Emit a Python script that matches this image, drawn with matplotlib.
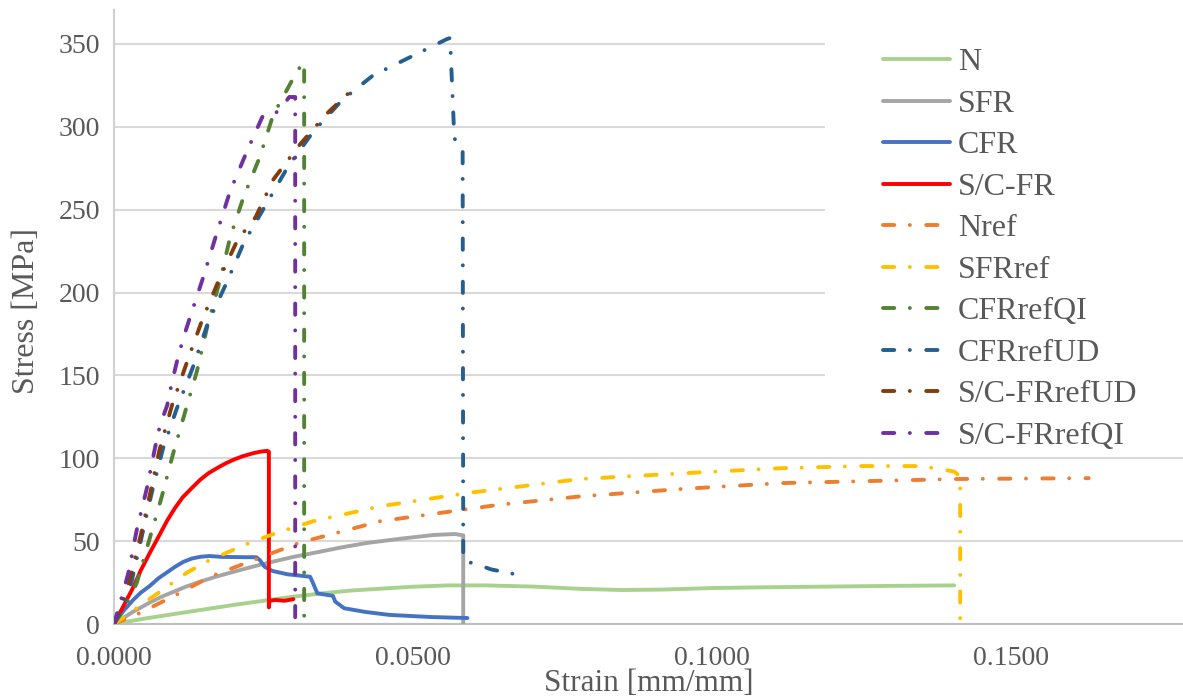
import matplotlib
matplotlib.use("Agg")
import matplotlib.pyplot as plt
from matplotlib.patches import Rectangle

# ---------------- data (strain [mm/mm], stress [MPa]) ----------------
N_strain = [0, 0.005, 0.01, 0.02, 0.03, 0.035, 0.04, 0.05, 0.056, 0.062, 0.07, 0.078,
            0.085, 0.092, 0.1, 0.11, 0.12, 0.13, 0.1405]
N_stress = [0, 3.2, 6, 11.5, 16.5, 18.6, 20.3, 22.5, 23.3, 23.3, 22.6, 21.2,
            20.5, 20.8, 21.7, 22.2, 22.6, 23.0, 23.3]

SFR_strain = [0, 0.0015, 0.003, 0.0045, 0.006, 0.008, 0.01, 0.012, 0.0144, 0.017, 0.0199,
              0.0228, 0.0256, 0.03, 0.0344, 0.038, 0.0423, 0.048, 0.0534, 0.057,
              0.0584, 0.0584]
SFR_stress = [0, 3.5, 7, 10, 13, 16.5, 19.5, 22.5, 25.5, 28.5, 31.4,
              34.2, 36.8, 40.5, 43.6, 46.2, 48.9, 51.5, 53.7, 54.3,
              53.5, 0]

CFR_strain = [0, 0.0016, 0.0032, 0.0045, 0.006, 0.0074, 0.0088, 0.0102, 0.0116, 0.013,
              0.0145, 0.016, 0.018, 0.022, 0.0238, 0.0244, 0.0252, 0.0265, 0.029,
              0.0316, 0.0328, 0.0333, 0.034, 0.0366, 0.037, 0.0385, 0.042, 0.046,
              0.053, 0.0591]
CFR_stress = [0, 8, 14.5, 19, 23, 27.5, 31, 34.5, 37.5, 39.5,
              40.6, 41, 40.5, 40.3, 40.3, 38.5, 34.5, 32, 30,
              29, 28.5, 24.5, 18.5, 17, 13.5, 9.5, 7.3, 5.5,
              4.2, 3.6]

SCFR_strain = [0, 0.0016, 0.0032, 0.0045, 0.006, 0.0075, 0.0089, 0.0102, 0.0115, 0.013,
               0.0144, 0.0158, 0.0172, 0.0186, 0.0199, 0.0215, 0.0232, 0.0245, 0.0256,
               0.0259, 0.0259, 0.026, 0.027, 0.0285, 0.030]
SCFR_stress = [0, 11, 22, 32.5, 43, 53, 62.5, 70, 76.5, 82,
               87, 91, 94, 96.8, 99, 101.2, 103, 104, 104.5,
               104, 10, 14, 14.5, 14, 15]

Nref_strain = [0, 0.0043, 0.011, 0.016, 0.0222, 0.031, 0.0445, 0.0645, 0.078, 0.095,
               0.1114, 0.141, 0.163]
Nref_stress = [0, 6.6, 18.7, 28.4, 37, 49, 62, 72, 77, 81.5,
               85, 87.5, 88]

SFRref_strain = [0, 0.002, 0.0043, 0.0077, 0.0122, 0.016, 0.0227, 0.0272, 0.0333, 0.0445,
                 0.059, 0.078, 0.098, 0.1114, 0.125, 0.135, 0.138, 0.1405, 0.1415, 0.1415]
SFRref_stress = [0, 5, 11, 19.5, 31, 38.6, 49, 55, 62, 71,
                 79, 87.5, 91.5, 94, 95.3, 95.3, 93.5, 92, 89, 0]

CFRrefQI_strain = [0, 0.0015, 0.0038, 0.006, 0.008, 0.0099, 0.0119, 0.0139, 0.0157, 0.0177,
                   0.0194, 0.0216, 0.0244, 0.0266, 0.030, 0.0316, 0.0318, 0.0318]
CFRrefQI_stress = [0, 8, 24.7, 52, 77, 103, 128, 153, 181, 207,
                   233, 257, 282, 307, 329.5, 339, 339, 0]

CFRrefUD_strain = [0, 0.0015, 0.003, 0.0047, 0.0063, 0.0082, 0.0105, 0.0132, 0.0157, 0.0188,
                   0.0217, 0.0254, 0.0291, 0.0333, 0.0381, 0.0433, 0.0495, 0.0557, 0.0562,
                   0.0569, 0.0572, 0.0583, 0.0584, 0.0589, 0.060, 0.063, 0.0692]
CFRrefUD_stress = [0, 10, 26.5, 53.7, 79, 106, 130, 155, 181.6, 205.7,
                   230, 253, 276, 297, 316, 331, 342, 353, 353.6,
                   294, 290, 287, 42, 37, 37, 33, 28.5]

SCFRrefUD_strain = [0, 0.0013, 0.0027, 0.0045, 0.006, 0.0076, 0.0097, 0.0122, 0.0147, 0.0177,
                    0.0207, 0.0237, 0.0266, 0.031, 0.0356, 0.0403, 0.041]
SCFRrefUD_stress = [0, 12, 28, 54, 78, 105, 132, 158, 183, 209,
                    232, 245.6, 268, 289, 308, 324, 325]

SCFRrefQI_strain = [0, 0.0013, 0.0024, 0.0038, 0.0055, 0.0069, 0.0077, 0.0089, 0.0097, 0.0105,
                    0.0116, 0.0127, 0.0149, 0.0172, 0.0194, 0.0222, 0.0248, 0.0264, 0.0279,
                    0.0293, 0.0300, 0.0303, 0.0303]
SCFRrefQI_stress = [0, 16.3, 30.8, 56.7, 82, 107, 120, 132, 146, 158,
                    172.6, 185, 209, 236, 261, 285, 306, 306.5, 311,
                    318, 318, 318, 0]

labels = ["N", "SFR", "CFR", "S/C-FR", "Nref", "SFRref", "CFRrefQI", "CFRrefUD",
          "S/C-FRrefUD", "S/C-FRrefQI"]
colors = ["#A9D18E", "#A5A5A5", "#4472C4", "#FF0000", "#ED7D31", "#FFC000",
          "#548235", "#255E91", "#843C0C", "#7030A0"]
series = [(N_strain, N_stress), (SFR_strain, SFR_stress), (CFR_strain, CFR_stress),
          (SCFR_strain, SCFR_stress), (Nref_strain, Nref_stress),
          (SFRref_strain, SFRref_stress), (CFRrefQI_strain, CFRrefQI_stress),
          (CFRrefUD_strain, CFRrefUD_stress), (SCFRrefUD_strain, SCFRrefUD_stress),
          (SCFRrefQI_strain, SCFRrefQI_stress)]
solid = [True, True, True, True, False, False, False, False, False, False]

# ---------------- figure ----------------
plt.rcParams['font.family'] = ['Liberation Serif', 'DejaVu Serif']
TXT = "#595959"

W, H = 1183, 698
fig = plt.figure(figsize=(W / 100, H / 100), dpi=100)
ax = fig.add_axes([114 / W, 74 / H, (W - 114) / W, 614 / H])

for (xs, ys), lab, col, sol in zip(series, labels, colors, solid):
    if sol:
        ax.plot(xs, ys, color=col, lw=2.8, label=lab, solid_capstyle='round',
                solid_joinstyle='round', zorder=3)
    else:
        ax.plot(xs, ys, color=col, lw=2.8, label=lab, dashes=(2.9, 4.0, 0.01, 4.2),
                dash_capstyle='round', zorder=3)

ax.set_xlim(0, 0.17876)
ax.set_ylim(0, 370.5)
ax.set_xticks([0, 0.05, 0.10, 0.15])
ax.set_xticklabels([f"{v:.4f}" for v in [0, 0.05, 0.10, 0.15]])
ax.set_yticks(range(0, 351, 50))

ax.grid(axis='y', color='#D9D9D9', lw=1.5)
ax.set_axisbelow(True)
for s in ['top', 'right']:
    ax.spines[s].set_visible(False)
ax.spines['left'].set_color('#D0D0D0')
ax.spines['left'].set_linewidth(1.5)
ax.spines['bottom'].set_color('#BFBFBF')
ax.spines['bottom'].set_linewidth(1.5)

ax.tick_params(axis='both', length=0, labelsize=20, labelcolor=TXT)
ax.tick_params(axis='y', pad=10)
ax.tick_params(axis='x', pad=16)

ax.set_xlabel("Strain [mm/mm]", fontsize=22.5, color=TXT)
ax.set_ylabel("Stress [MPa]", fontsize=23, color=TXT)
ax.xaxis.set_label_coords(0.5, (624 - 691) / 614)
ax.xaxis.label.set_va('baseline')
ax.yaxis.set_label_coords(-0.082, 0.51)
ax.yaxis.label.set_va('center')

# white legend area covering gridlines
ax.add_patch(Rectangle((825 / W, 1 - 448 / H), (W - 825) / W, (448 - 12) / H,
                       transform=fig.transFigure, facecolor='white',
                       edgecolor='none', zorder=1))

leg = ax.legend(loc='upper left', bbox_to_anchor=(883 / W, 1 - 48 / H),
                bbox_transform=fig.transFigure, frameon=False, fontsize=23,
                handlelength=2.1, handletextpad=0.25, labelspacing=0.38,
                borderaxespad=0, borderpad=0)
for t in leg.get_texts():
    t.set_color(TXT)

fig.savefig("out.png", dpi=100)
